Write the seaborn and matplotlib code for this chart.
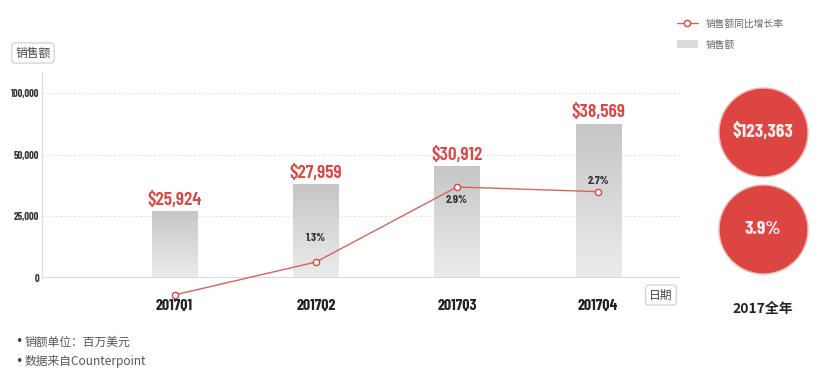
import numpy as np
import matplotlib
matplotlib.use("Agg")
import matplotlib.pyplot as plt
from matplotlib.colors import LinearSegmentedColormap
from matplotlib.lines import Line2D
from matplotlib.patches import Patch
import seaborn as sns

# data
quarters = ["2017Q1", "2017Q2", "2017Q3", "2017Q4"]
sales = [25924, 27959, 30912, 38569]            # bar labels, $M
bar_heights = [26800, 37700, 45000, 74800]      # bar tops as drawn on the (odd) axis
growth = [-0.2, 1.3, 2.9, 2.7]                  # % labels
growth_line = [0.6, 1.3, 2.9, 2.8]              # line heights as drawn
y_ticks = [0, 25000, 50000, 100000]
annual_sales = 123363
annual_growth = 3.9
annual_label = "2017全年"
notes = ["销额单位：百万美元", "数据来自Counterpoint"]

RED = "#dc4541"
NARROW = ["Barlow Condensed", "DejaVu Sans"]

sns.set_theme(style="white")
plt.rcParams["font.family"] = ["Noto Sans CJK SC", "DejaVu Sans"]

fig = plt.figure(figsize=(8.36, 3.87), dpi=100)
ax = fig.add_axes([42 / 836, 1 - 278 / 387, 638 / 836, 206 / 387])

# evenly spaced ticks for 0 / 25k / 50k / 100k
seg_v = [-25000, 0, 25000, 50000, 100000, 200000]
seg_p = [-1, 0, 1, 2, 3, 5]


def fwd(v):
    return np.interp(v, seg_v, seg_p)


def inv(p):
    return np.interp(p, seg_p, seg_v)


sns.barplot(x=quarters, y=bar_heights, ax=ax, width=0.32, color="#d9d9d9",
            saturation=1, zorder=2)
ax.set_yscale("function", functions=(fwd, inv))
xlim = (-0.94, 3.58)
ylim = (0, 117000)
ax.set_xlim(*xlim)
ax.set_ylim(*ylim)
ax.set_xlabel("")
ax.set_ylabel("")

# gradient fill on the bars
cmap = LinearSegmentedColormap.from_list("bar", ["#ececec", "#c6c6c6"])
grad = np.linspace(0, 1, 256).reshape(-1, 1)
for p in ax.patches:
    xa0 = (p.get_x() - xlim[0]) / (xlim[1] - xlim[0])
    xa1 = (p.get_x() + p.get_width() - xlim[0]) / (xlim[1] - xlim[0])
    ya1 = fwd(p.get_height()) / fwd(ylim[1])
    ax.imshow(grad, extent=[xa0, xa1, 0, ya1], transform=ax.transAxes,
              aspect="auto", cmap=cmap, origin="lower", zorder=2.5)
ax.set_xlim(*xlim)
ax.set_ylim(*ylim)

for v in y_ticks[1:]:
    ax.axhline(v, color="#e3e3e3", lw=0.8, ls=(0, (2, 2)), zorder=1)
ax.axhline(0, color="#d2d2d2", lw=1.2, zorder=3)

ax.set_yticks(y_ticks)
ax.set_yticklabels([f"{v:,}" for v in y_ticks], family=NARROW,
                   fontweight="bold", fontsize=7.5, color="#333333")
ax.set_xticks(range(len(quarters)))
ax.set_xticklabels(quarters, family=NARROW, fontweight="bold", fontsize=11.5,
                   color="#222222")
ax.tick_params(axis="y", length=0, pad=2)
ax.tick_params(axis="x", length=0, pad=15)
ax.yaxis.set_minor_locator(matplotlib.ticker.NullLocator())
for s in ["top", "right", "bottom"]:
    ax.spines[s].set_visible(False)
ax.spines["left"].set_color("#dddddd")
ax.spines["left"].set_linewidth(0.8)

for i, (s, h) in enumerate(zip(sales, bar_heights)):
    ax.annotate(f"${s:,}", (i, h), xytext=(0, 2), textcoords="offset points",
                ha="center", va="bottom", color=RED, fontsize=14,
                fontweight="semibold", family=NARROW)

# growth line on a hidden twin axis
axr = ax.twinx()
sns.lineplot(x=range(len(quarters)), y=growth_line, ax=axr, color="#d9645c",
             lw=1, marker="o", markersize=4.5, markerfacecolor="white",
             markeredgecolor=RED, markeredgewidth=1, clip_on=False)
axr.set_ylim(0.96, 5.35)
axr.set_xlim(*xlim)
axr.set_yticks([])
axr.set_ylabel("")
for s in axr.spines.values():
    s.set_visible(False)

label_offsets = [23, 17, -9.5, 8]
for i, (g, gl, off) in enumerate(zip(growth, growth_line, label_offsets)):
    axr.annotate(f"{g:.1f}%", (i, gl), xytext=(0, off),
                 textcoords="offset points", ha="center", va="center",
                 fontsize=8.5, fontweight="bold", family=NARROW, color="#333333")

# annual summary bubbles
side = fig.add_axes([713 / 836, 1 - 275 / 387, 100 / 836, 190 / 387])
sns.scatterplot(x=[0, 0], y=[1, 0], ax=side, s=4100, color=RED,
                edgecolor="#f3b5b0", linewidth=1, legend=False, clip_on=False)
side.set_xlim(-1, 1)
side.set_ylim(-0.474, 1.485)
side.axis("off")
side.text(0, 1, f"${annual_sales:,}", ha="center", va="center", color="#fdeeee",
          fontsize=14, fontweight="bold", family=NARROW)
side.text(0, 0, f"{annual_growth:.1f}%", ha="center", va="center", color="#fdeeee",
          fontsize=14, fontweight="bold", family=NARROW)
fig.text(763 / 836, 1 - 309 / 387, annual_label, ha="center", va="center",
         fontsize=10, fontweight="bold", color="#222222")

# boxed axis captions
box = dict(boxstyle="round,pad=0.3", fc="white", ec="#cccccc", lw=0.8)
fig.text(33 / 836, 1 - 53 / 387, "销售额", ha="center", va="center",
         fontsize=8.5, color="#444444", bbox=box)
fig.text(661 / 836, 1 - 295 / 387, "日期", ha="center", va="center",
         fontsize=8.5, color="#444444", bbox=box)

# legend
handles = [
    Line2D([], [], color="#d9645c", lw=1, marker="o", markersize=4.5,
           markerfacecolor="white", markeredgecolor=RED),
    Patch(facecolor="#dcdcdc", edgecolor="none"),
]
fig.legend(handles, ["销售额同比增长率", "销售额"], loc="upper left",
           bbox_to_anchor=(668 / 836, 1 - 10 / 387), frameon=False,
           fontsize=7, labelcolor="#666666", handlelength=2.2,
           handleheight=0.8, labelspacing=1.1)

# footnotes
for k, note in enumerate(notes):
    yk = 1 - (342 + 19 * k) / 387
    fig.text(15 / 836, yk, "•", ha="left", va="center", fontsize=9,
             color="#444444", family="DejaVu Sans")
    fig.text(25 / 836, yk, note, ha="left", va="center", fontsize=8.5,
             color="#555555")

fig.savefig("out.png", dpi=100)
